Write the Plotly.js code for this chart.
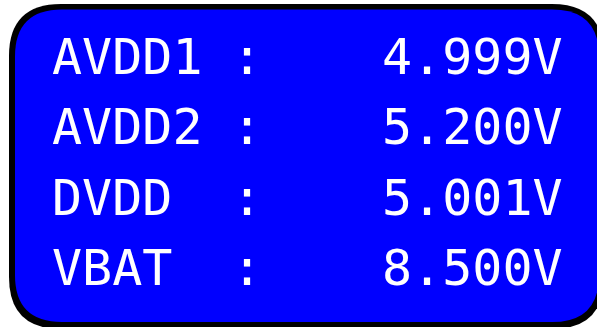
<!DOCTYPE html>
<html>
<head>
<meta charset="utf-8">
<script src="https://cdn.plot.ly/plotly-3.0.1.min.js"></script>
<style>
  html, body { margin: 0; padding: 0; background: #ffffff; }
  #chart { width: 597px; height: 327px; }
</style>
</head>
<body>
<div id="chart"></div>
<script>
// Data
const labels = ['AVDD1', 'AVDD2', 'DVDD', 'VBAT'];
const voltages = [4.999, 5.200, 5.001, 8.500];
const unit = 'V';

// Styling
const FONT = {family: 'DejaVu Sans Mono, monospace', size: 50, color: '#ffffff'};
const LABEL_X = 50;
const COLON_X = 247;
const VALUE_X = 565;

const annotations = [];
labels.forEach((lab, i) => {
  annotations.push({x: LABEL_X, y: i, xref: 'x', yref: 'y', text: lab, showarrow: false,
    xanchor: 'left', yanchor: 'middle', font: FONT});
  annotations.push({x: COLON_X, y: i, xref: 'x', yref: 'y', text: ':', showarrow: false,
    xanchor: 'center', yanchor: 'middle', font: FONT});
  annotations.push({x: VALUE_X, y: i, xref: 'x', yref: 'y', text: voltages[i].toFixed(3) + unit,
    showarrow: false, xanchor: 'right', yanchor: 'middle', font: FONT});
});

function roundRect(x0, y0, x1, y1, r) {
  return `M ${x0 + r} ${y0} L ${x1 - r} ${y0} Q ${x1} ${y0} ${x1} ${y0 + r} ` +
         `L ${x1} ${y1 - r} Q ${x1} ${y1} ${x1 - r} ${y1} ` +
         `L ${x0 + r} ${y1} Q ${x0} ${y1} ${x0} ${y1 - r} ` +
         `L ${x0} ${y0 + r} Q ${x0} ${y0} ${x0 + r} ${y0} Z`;
}

// y axis: row index -> pixel (row centres at 57 + 70.3*i)
const rowTop = -57 / 70.3, rowBottom = (327 - 57) / 70.3;

const layout = {
  width: 597, height: 327,
  margin: {l: 0, r: 0, t: 0, b: 0},
  paper_bgcolor: '#ffffff', plot_bgcolor: '#ffffff',
  showlegend: false,
  xaxis: {range: [0, 597], visible: false, fixedrange: true},
  yaxis: {range: [rowBottom, rowTop], visible: false, fixedrange: true},
  yaxis2: {range: [327, 0], visible: false, overlaying: 'y', fixedrange: true},
  shapes: [
    {type: 'path', xref: 'x', yref: 'y2', path: roundRect(9, 4, 604, 329, 52),
     fillcolor: '#000000', line: {width: 0}, layer: 'below'},
    {type: 'path', xref: 'x', yref: 'y2', path: roundRect(15, 9.5, 599, 322, 47),
     fillcolor: '#0000ff', line: {width: 0}, layer: 'below'}
  ],
  annotations: annotations
};

const data = [{x: [0], y: [0], yaxis: 'y2', mode: 'markers', marker: {opacity: 0}, hoverinfo: 'skip'}];

Plotly.newPlot('chart', data, layout, {staticPlot: true, displayModeBar: false});
</script>
</body>
</html>
